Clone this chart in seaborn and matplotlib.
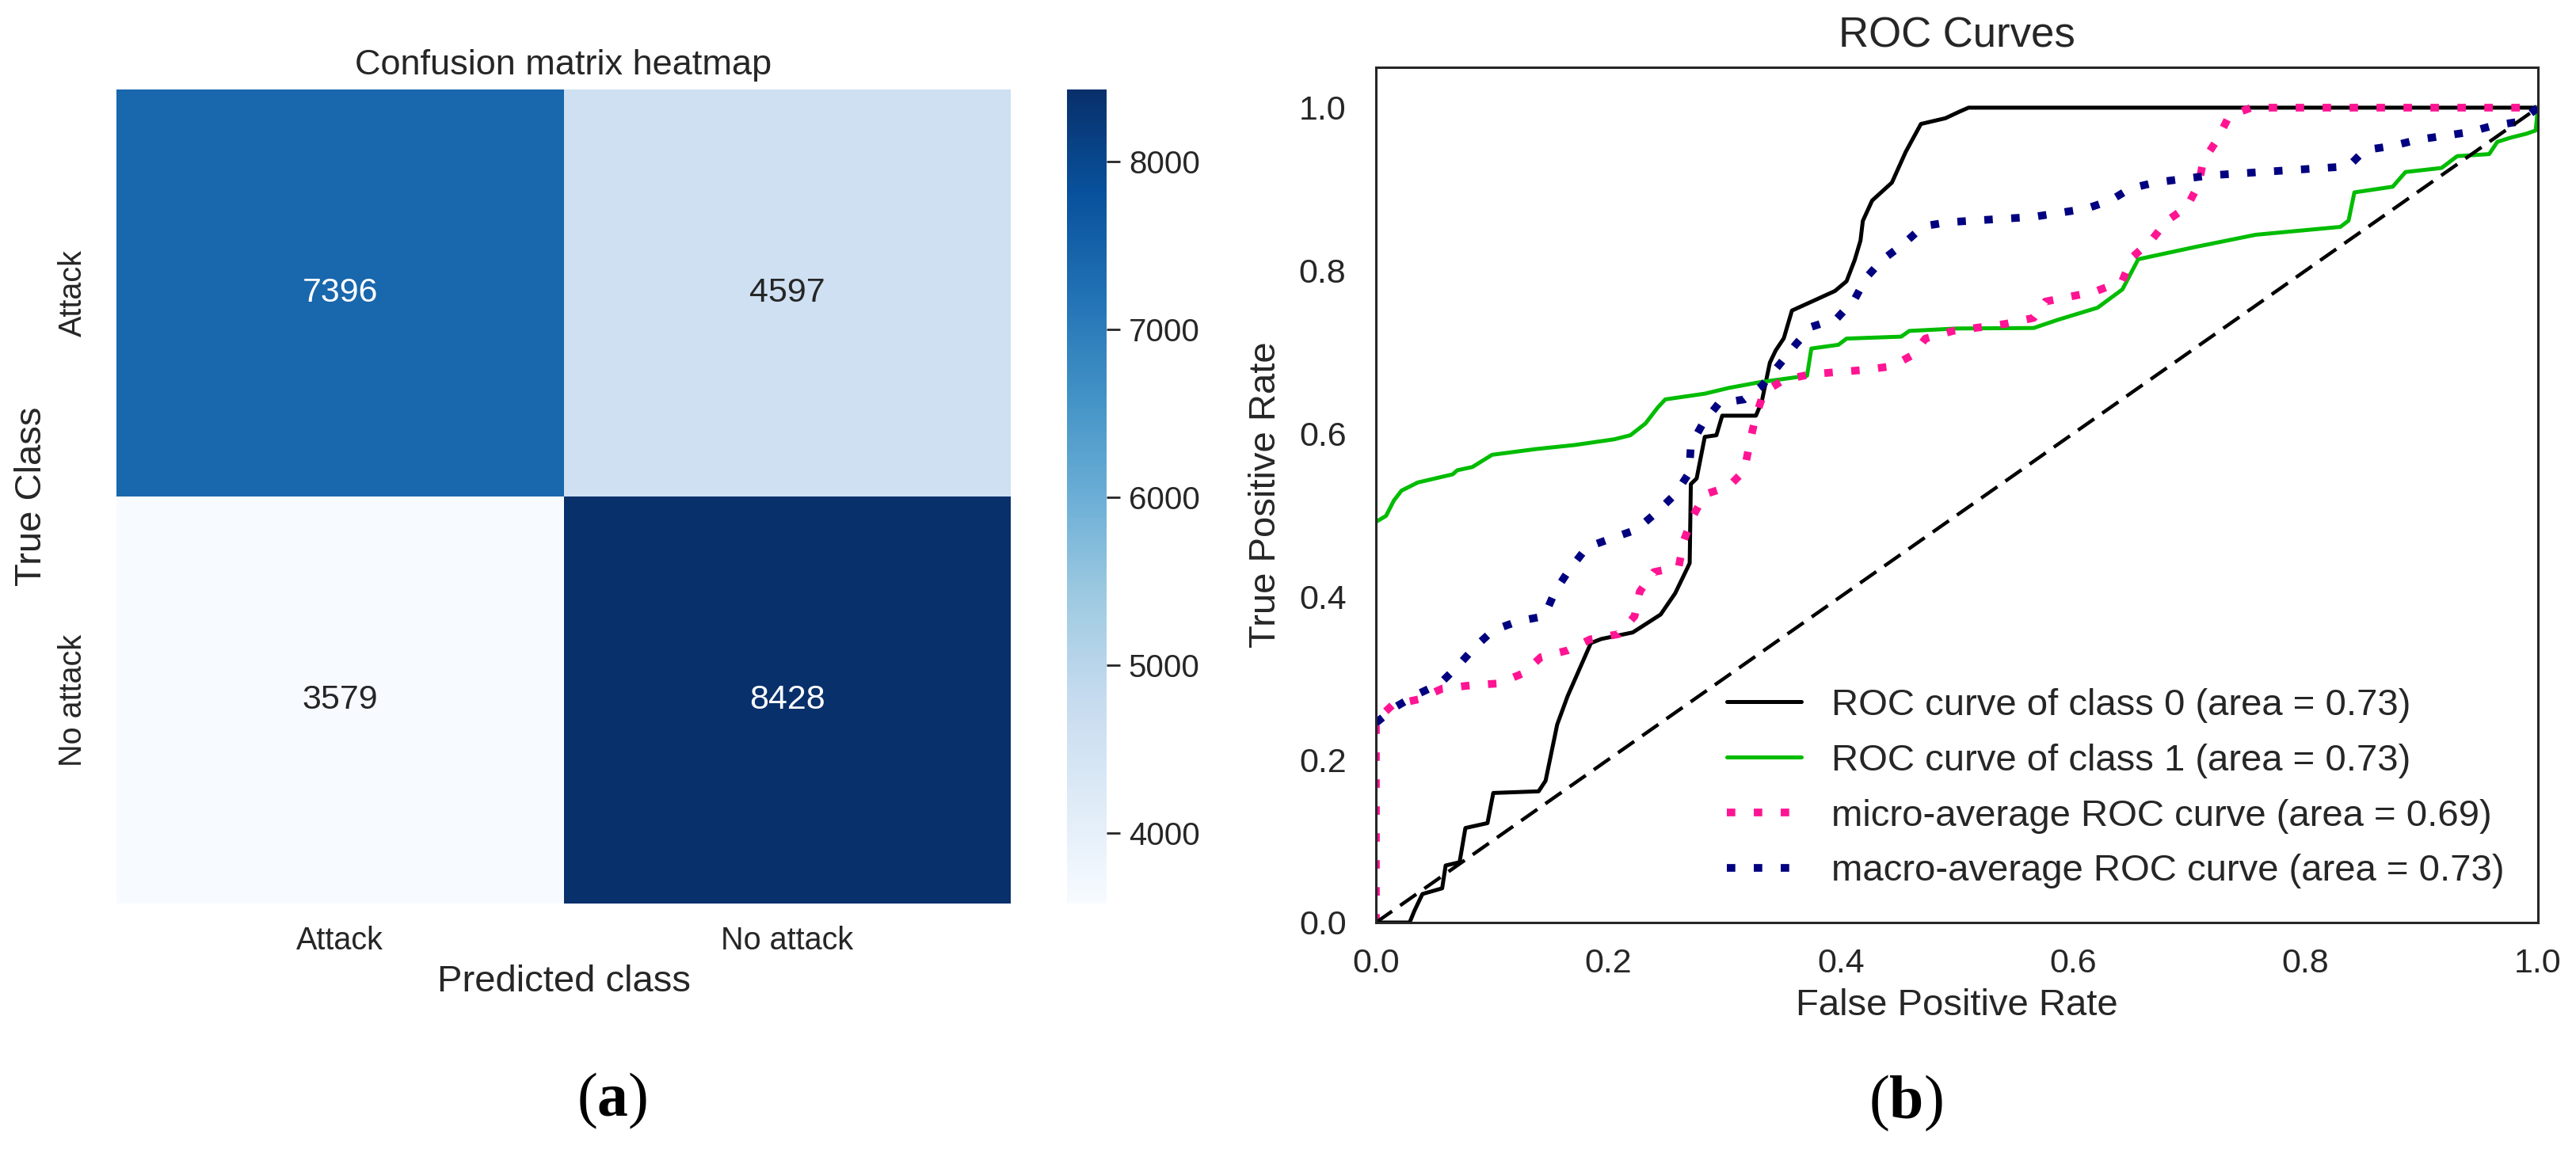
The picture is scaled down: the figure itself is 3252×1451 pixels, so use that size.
import matplotlib
matplotlib.use("Agg")
import matplotlib.pyplot as plt
import numpy as np
import pandas as pd
import seaborn as sns

# confusion matrix
class_names = ["Attack", "No attack"]
cm_row_attack = [7396, 4597]
cm_row_noattack = [3579, 8428]

# ROC curves
fpr0 = [0, 0.029, 0.033, 0.040, 0.057, 0.060, 0.072, 0.077, 0.096, 0.101,
        0.140, 0.146, 0.156, 0.165, 0.185, 0.194, 0.221, 0.245, 0.2575, 0.268,
        0.270, 0.271, 0.276, 0.283, 0.293, 0.298, 0.327, 0.332, 0.339, 0.344,
        0.351, 0.358, 0.375, 0.395, 0.405, 0.412, 0.417, 0.419, 0.427, 0.444,
        0.456, 0.469, 0.490, 0.502, 0.510, 1.0]
tpr0 = [0, 0, 0.014, 0.035, 0.042, 0.070, 0.074, 0.116, 0.122, 0.159,
        0.161, 0.174, 0.243, 0.278, 0.343, 0.348, 0.356, 0.378, 0.404, 0.435,
        0.441, 0.538, 0.545, 0.596, 0.598, 0.622, 0.622, 0.639, 0.687, 0.702,
        0.717, 0.751, 0.762, 0.775, 0.787, 0.813, 0.837, 0.861, 0.886, 0.908,
        0.946, 0.980, 0.987, 0.995, 1.0, 1.0]

fpr1 = [0, 0.0087, 0.0155, 0.022, 0.036, 0.066, 0.070, 0.083, 0.100, 0.1375,
        0.171, 0.205, 0.219, 0.232, 0.2425, 0.249, 0.283, 0.3035, 0.330, 0.371,
        0.3747, 0.398, 0.405, 0.452, 0.459, 0.50, 0.566, 0.5865, 0.621, 0.6424,
        0.656, 0.705, 0.757, 0.830, 0.837, 0.842, 0.875, 0.886, 0.917, 0.9305,
        0.958, 0.965, 0.976, 0.990, 0.998, 1.0]
tpr1 = [0.4917, 0.499, 0.518, 0.530, 0.540, 0.550, 0.555, 0.559, 0.574, 0.581,
        0.586, 0.593, 0.598, 0.6125, 0.632, 0.642, 0.649, 0.656, 0.663, 0.671,
        0.7044, 0.709, 0.7166, 0.719, 0.726, 0.729, 0.7296, 0.7395, 0.7545, 0.777,
        0.814, 0.829, 0.844, 0.8537, 0.8614, 0.896, 0.903, 0.921, 0.926, 0.9405,
        0.943, 0.958, 0.963, 0.968, 0.972, 1.0]

fpr_micro = [0, 0, 0.0143, 0.037, 0.057, 0.081, 0.1056, 0.127, 0.142, 0.165,
             0.1846, 0.209, 0.2226, 0.227, 0.239, 0.2606, 0.265, 0.273, 0.283, 0.3035,
             0.317, 0.322, 0.327, 0.334, 0.351, 0.375, 0.4187, 0.444, 0.4626, 0.4728,
             0.4966, 0.5416, 0.566, 0.576, 0.618, 0.642, 0.651, 0.6666, 0.6806, 0.698,
             0.708, 0.712, 0.724, 0.7343, 0.7534, 1.0]
tpr_micro = [0, 0.248, 0.267, 0.274, 0.287, 0.291, 0.2934, 0.306, 0.3257, 0.334,
             0.3476, 0.354, 0.376, 0.406, 0.430, 0.4366, 0.469, 0.499, 0.5254, 0.535,
             0.5545, 0.591, 0.622, 0.651, 0.666, 0.673, 0.678, 0.6826, 0.697, 0.7166,
             0.726, 0.7346, 0.742, 0.762, 0.774, 0.7866, 0.8167, 0.836, 0.861, 0.8785,
             0.9057, 0.935, 0.9606, 0.990, 1.0, 1.0]

fpr_macro = [0, 0.0174, 0.0355, 0.0554, 0.0706, 0.0858, 0.101, 0.122, 0.145, 0.154,
             0.166, 0.1816, 0.2028, 0.224, 0.242, 0.2575, 0.2696, 0.271, 0.2814, 0.295,
             0.317, 0.332, 0.346, 0.361, 0.3747, 0.3965, 0.412, 0.422, 0.4356, 0.454,
             0.471, 0.493, 0.566, 0.611, 0.632, 0.649, 0.670, 0.7187, 0.837, 0.851,
             0.875, 0.896, 0.941, 0.9605, 0.9846, 1.0]
tpr_macro = [0.245, 0.265, 0.280, 0.2935, 0.315, 0.339, 0.3587, 0.3696, 0.376, 0.406,
             0.432, 0.4605, 0.4715, 0.482, 0.504, 0.5255, 0.552, 0.586, 0.6126, 0.637,
             0.642, 0.6584, 0.6826, 0.709, 0.731, 0.741, 0.765, 0.7915, 0.813, 0.8327,
             0.8545, 0.8595, 0.866, 0.876, 0.886, 0.9008, 0.908, 0.917, 0.928, 0.948,
             0.953, 0.9606, 0.970, 0.9776, 0.983, 1.0]

roc_labels = ["ROC curve of class 0 (area = 0.73)",
              "ROC curve of class 1 (area = 0.73)",
              "micro-average ROC curve (area = 0.69)",
              "macro-average ROC curve (area = 0.73)"]

sns.set_style("white")
plt.rcParams["font.family"] = ["Liberation Sans", "DejaVu Sans"]
plt.rcParams["mathtext.fontset"] = "custom"
plt.rcParams["mathtext.rm"] = "Liberation Serif"
plt.rcParams["mathtext.bf"] = "Liberation Serif:bold"

W, H = 3252, 1451
fig = plt.figure(figsize=(W / 100, H / 100), dpi=100)
ax1 = fig.add_axes([147 / W, 1 - 1141 / H, 1129 / W, 1028 / H])
cax = fig.add_axes([1347 / W, 1 - 1141 / H, 50 / W, 1028 / H])
ax2 = fig.add_axes([1737 / W, 1 - 1165 / H, 1467 / W, 1080.5 / H])

# heatmap
cm = pd.DataFrame([cm_row_attack, cm_row_noattack], index=class_names, columns=class_names)
sns.heatmap(cm, annot=True, fmt="d", cmap="Blues", ax=ax1, cbar_ax=cax,
            annot_kws={"size": 31})
ax1.set_title("Confusion matrix heatmap", fontsize=32.5, pad=14)
ax1.set_xlabel("Predicted class", fontsize=34, labelpad=8)
ax1.set_ylabel("True Class", fontsize=34, labelpad=8)
ax1.tick_params(axis="x", labelsize=28.5, length=0, pad=20)
ax1.tick_params(axis="y", labelsize=28.5, length=0, pad=26)
plt.setp(ax1.get_yticklabels(), rotation=90, va="center")
cax.tick_params(labelsize=29, right=True, length=12, width=2, pad=8, color=".15")

# ROC curves
sns.lineplot(x=fpr0, y=tpr0, sort=False, estimator=None, ax=ax2, color="black",
             lw=3.6, label=roc_labels[0])
sns.lineplot(x=fpr1, y=tpr1, sort=False, estimator=None, ax=ax2,
             color=plt.get_cmap("nipy_spectral")(0.5), lw=3.6, label=roc_labels[1])
sns.lineplot(x=fpr_micro, y=tpr_micro, sort=False, estimator=None, ax=ax2,
             color="deeppink", lw=7, linestyle=(0, (1.1, 2.4)), label=roc_labels[2])
sns.lineplot(x=fpr_macro, y=tpr_macro, sort=False, estimator=None, ax=ax2,
             color="navy", lw=7, linestyle=(0, (1.1, 2.4)), label=roc_labels[3])
ax2.plot([0, 1], [0, 1], color="black", lw=3.2, linestyle=(0, (5.6, 2.8)))
ax2.set_xlim(0, 1.0)
ax2.set_ylim(0, 1.05)
ax2.set_xticks(np.arange(0, 1.01, 0.2))
ax2.set_yticks(np.arange(0, 1.01, 0.2))
ax2.set_title("ROC Curves", fontsize=38, pad=18)
ax2.set_xlabel("False Positive Rate", fontsize=34, labelpad=8)
ax2.set_ylabel("True Positive Rate", fontsize=34, labelpad=14)
ax2.tick_params(axis="x", labelsize=31, length=0, pad=23)
ax2.tick_params(axis="y", labelsize=31, length=0, pad=27)
for s in ax2.spines.values():
    s.set_linewidth(2.2)
    s.set_color(".15")
ax2.legend(loc="lower right", frameon=False, fontsize=34, labelspacing=0.55)

fig.text(773 / W, 1 - 1390 / H, r"$(\mathbf{a})$", fontsize=56, ha="center", va="center", color="black")
fig.text(2406 / W, 1 - 1393 / H, r"$(\mathbf{b})$", fontsize=56, ha="center", va="center", color="black")

fig.savefig("out.png", dpi=100)
